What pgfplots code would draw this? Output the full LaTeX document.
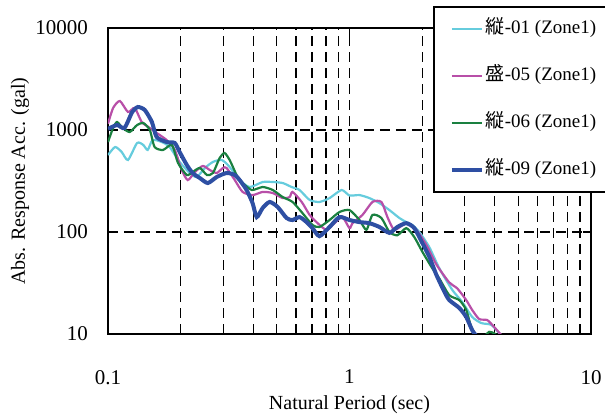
\documentclass[border=0pt]{standalone}
\usepackage{fontspec}
\setmainfont{Liberation Serif}
\newfontfamily\cjk{Noto Sans CJK JP}
\usepackage{pgfplots}
\pgfplotsset{compat=1.18}
\definecolor{c01}{RGB}{102,204,221}
\definecolor{c05}{RGB}{184,79,168}
\definecolor{c06}{RGB}{26,128,64}
\definecolor{c09}{RGB}{46,79,163}
\begin{document}
\begin{tikzpicture}
\useasboundingbox (-54pt,-41pt) rectangle (248.5pt,167pt);
\begin{axis}[
  at={(0pt,0pt)}, anchor=south west,
  scale only axis, width=241.5pt, height=153pt,
  xmode=log, ymode=log,
  xmin=0.1, xmax=10, ymin=10, ymax=10000,
  xtick={0.1,1,10}, xticklabels={0.1,1,10},
  ytick={10,100,1000,10000}, yticklabels={10,100,1000,10000},
  xmajorgrids=true, xminorgrids=true, ymajorgrids=true,
  major grid style={black, line width=0.6pt, dash pattern=on 5pt off 3pt},
  minor grid style={black, line width=0.6pt, dash pattern=on 5pt off 3pt},
  tick align=inside, major tick length=4pt, minor tick length=0pt,
  axis line style={black, line width=1pt},
  tick style={black, line width=0.8pt},
  /pgf/number format/assume math mode=true,
  ticklabel style={font=\fontsize{10.5}{12}\selectfont},
  xticklabel style={yshift=-14.5pt},
  yticklabel style={xshift=-6.5pt},
  label style={font=\fontsize{11.5}{13}\selectfont},
  xlabel={Natural Period (sec)},
  ylabel={Abs. Response Acc. (gal)},
  every axis x label/.style={at={(axis description cs:0.5,-0.232)}, anchor=center},
  every axis y label/.style={at={(axis description cs:-0.182,0.5)}, anchor=center, rotate=90},
  legend style={at={(0.673,1.072)}, anchor=north west, draw=black, line width=0.8pt,
    fill=white, font=\fontsize{9.5}{11}\selectfont, inner xsep=8pt, inner ysep=5.5pt,
    row sep=12.5pt, nodes={inner sep=1pt, text height=7pt, text depth=2pt}},
  legend cell align=left,
  legend image code/.code={\draw[#1] (0pt,0pt) -- (15pt,0pt);},
]
\addplot[c01, line width=1.1pt, smooth, tension=0.4] coordinates {
(0.1,568)(0.107,681)(0.114,608)(0.121,508)(0.132,746)(0.140,713)(0.146,637)(0.153,797)
(0.167,762)(0.180,681)(0.198,486)(0.218,379)(0.233,346)(0.252,424)(0.272,486)(0.296,508)
(0.319,434)(0.351,323)(0.386,276)(0.437,309)(0.481,309)(0.529,302)(0.576,276)(0.621,258)
(0.684,206)(0.751,197)(0.827,215)(0.927,258)(1.0,228)(1.1,230)(1.209,215)(1.33,192)
(1.463,164)(1.61,137)(1.72,125)(1.821,117)(1.946,100)(2.141,71)(2.355,44)(2.666,27)
(2.93,20.6)(3.222,14.7)(3.512,12.8)(3.861,12.3)(4.166,10.2)(4.4,8.7)};
\addlegendentry{{\cjk 縦}-01 (Zone1)}
\addplot[c05, line width=1.1pt, smooth, tension=0.4] coordinates {
(0.1,1150)(0.105,1643)(0.112,1924)(0.121,1501)(0.129,1643)(0.138,1197)(0.149,1047)(0.159,935)
(0.175,797)(0.189,637)(0.202,405)(0.214,323)(0.229,387)(0.247,444)(0.264,405)(0.282,379)
(0.299,424)(0.310,424)(0.335,323)(0.361,247)(0.397,230)(0.437,247)(0.481,241)(0.529,215)
(0.565,220)(0.581,247)(0.634,197)(0.684,147)(0.738,122)(0.803,105)(0.867,122)(0.935,140)
(1.0,109)(1.029,122)(1.132,147)(1.245,197)(1.356,197)(1.436,140)(1.535,105)(1.72,122)
(1.892,105)(2.08,75)(2.29,48)(2.589,32)(2.794,28)(3.043,21.5)(3.222,17.2)(3.445,14.0)
(3.718,13.7)(3.975,11.7)(4.245,9.8)(4.5,8.5)};
\addlegendentry{{\cjk 盛}-05 (Zone1)}
\addplot[c06, line width=1.1pt, smooth, tension=0.4] coordinates {
(0.1,762)(0.105,1047)(0.109,1197)(0.115,1047)(0.123,956)(0.132,1119)(0.140,1171)(0.149,1000)
(0.156,681)(0.169,637)(0.184,713)(0.195,475)(0.212,362)(0.224,387)(0.240,424)(0.257,362)
(0.272,379)(0.290,531)(0.304,595)(0.319,508)(0.329,434)(0.344,346)(0.361,302)(0.394,258)
(0.437,276)(0.481,258)(0.529,220)(0.581,197)(0.639,153)(0.703,117)(0.751,112)(0.827,131)
(0.909,157)(1.0,164)(1.1,131)(1.175,105)(1.245,147)(1.356,137)(1.463,100)(1.579,93)
(1.72,109)(1.856,89)(2.003,64)(2.203,44)(2.355,35)(2.589,24)(2.849,21.5)(3.043,17.2)
(3.192,11.7)(3.347,9.8)(3.55,9.1)(3.789,10.5)(4.01,10)(4.166,8.7)};
\addlegendentry{{\cjk 縦}-06 (Zone1)}
\addplot[c09, line width=2pt, smooth, tension=0.4] coordinates {
(0.1,1023)(0.109,1119)(0.117,1047)(0.126,1501)(0.133,1680)(0.142,1570)(0.152,1197)(0.159,854)
(0.175,762)(0.189,746)(0.198,608)(0.212,454)(0.224,379)(0.240,338)(0.259,302)(0.282,346)
(0.310,379)(0.335,362)(0.351,323)(0.375,258)(0.397,192)(0.413,140)(0.437,172)(0.467,197)
(0.504,176)(0.549,137)(0.581,131)(0.621,140)(0.664,125)(0.703,109)(0.751,91)(0.827,112)
(0.909,140)(1.0,131)(1.1,125)(1.209,122)(1.33,112)(1.463,98)(1.579,112)(1.72,122)
(1.856,109)(2.003,78)(2.141,57)(2.29,38)(2.47,26)(2.589,21.5)(2.849,18.0)(3.043,14.7)
(3.222,10.9)(3.381,9.35)(3.5,8.5)};
\addlegendentry{{\cjk 縦}-09 (Zone1)}
\end{axis}
\end{tikzpicture}
\end{document}
